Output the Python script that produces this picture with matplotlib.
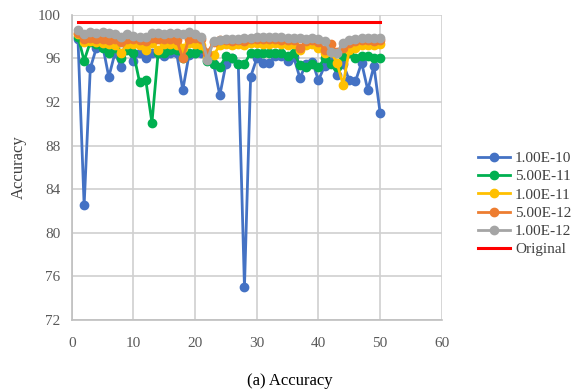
import matplotlib
matplotlib.use("Agg")
import matplotlib.pyplot as plt

plt.rcParams['font.family'] = ['Liberation Serif', 'DejaVu Serif']

x = list(range(1, 51))
labels = ["1.00E-10", "5.00E-11", "1.00E-11", "5.00E-12", "1.00E-12", "Original"]
colors = ["#4472C4", "#00B050", "#FFC000", "#ED7D31", "#A5A5A5", "#FF0000"]

s_1e10 = [97.8, 82.5, 95.1, 97.0, 97.2, 94.3, 96.5, 95.2, 97.0, 95.8,
          96.5, 96.0, 96.5, 96.5, 96.2, 96.5, 96.5, 93.1, 96.3, 96.5,
          96.5, 96.5, 95.5, 92.6, 95.5, 96.0, 95.5, 75.0, 94.3, 96.0,
          95.6, 95.6, 96.2, 96.2, 95.8, 96.1, 94.2, 95.5, 95.7, 94.0,
          95.3, 96.0, 94.5, 95.5, 94.0, 93.9, 95.6, 93.1, 95.3, 91.0]
s_5e11 = [98.0, 95.8, 97.5, 97.3, 97.0, 96.5, 97.0, 96.0, 96.8, 96.5,
          93.8, 94.0, 90.1, 96.5, 96.5, 96.8, 96.8, 96.0, 96.5, 96.5,
          97.0, 95.8, 95.5, 95.2, 96.2, 96.0, 95.5, 95.5, 96.5, 96.5,
          96.5, 96.5, 96.5, 96.5, 96.2, 96.5, 95.4, 95.2, 95.5, 95.2,
          96.0, 95.5, 95.2, 96.2, 96.5, 96.0, 96.2, 96.2, 96.0, 96.0]
s_1e11 = [98.2, 97.5, 97.6, 97.5, 97.4, 97.3, 97.2, 96.5, 97.3, 97.3,
          97.2, 96.8, 97.4, 96.8, 97.3, 97.3, 97.2, 97.0, 97.4, 97.3,
          97.2, 96.0, 96.3, 97.2, 97.3, 97.2, 97.3, 97.2, 97.4, 97.4,
          97.3, 97.3, 97.4, 97.3, 97.2, 97.3, 96.8, 97.2, 97.3, 97.0,
          96.5, 96.6, 95.6, 93.6, 96.8, 97.0, 97.2, 97.2, 97.2, 97.3]
s_5e12 = [98.3, 97.8, 97.9, 97.8, 97.8, 97.7, 97.8, 97.5, 97.8, 97.8,
          97.7, 97.6, 97.9, 97.8, 97.8, 97.8, 97.7, 96.0, 97.8, 97.9,
          97.8, 96.5, 97.5, 97.7, 97.7, 97.6, 97.7, 97.6, 97.8, 97.8,
          97.8, 97.8, 97.8, 97.7, 97.7, 97.7, 97.0, 97.6, 97.7, 97.5,
          96.8, 97.3, 96.6, 97.0, 97.4, 97.6, 97.7, 97.7, 97.6, 97.7]
s_1e12 = [98.6, 98.2, 98.4, 98.3, 98.4, 98.3, 98.2, 98.0, 98.2, 98.1,
          98.0, 98.0, 98.3, 98.3, 98.2, 98.3, 98.3, 98.2, 98.4, 98.2,
          98.0, 95.9, 97.6, 97.7, 97.8, 97.8, 97.8, 97.9, 97.9, 98.0,
          98.0, 98.0, 98.0, 98.0, 97.9, 97.9, 97.9, 97.8, 97.9, 97.8,
          97.6, 96.6, 96.5, 97.4, 97.7, 97.8, 97.9, 97.9, 97.9, 97.9]
original = [99.3] * 50

series = [s_1e10, s_5e11, s_1e11, s_5e12, s_1e12]

fig = plt.figure(figsize=(5.79, 3.91), dpi=100)
ax = fig.add_axes([0.124, 0.182, 0.639, 0.780])

for s, lab, c in zip(series, labels[:5], colors[:5]):
    ax.plot(x, s, color=c, lw=2, marker='o', markersize=6, label=lab)
ax.plot(x, original, color=colors[5], lw=2.2, label=labels[5])

ax.set_xlim(0, 60)
ax.set_ylim(72, 100)
ax.set_xticks(range(0, 61, 10))
ax.set_yticks(range(72, 101, 4))
ax.grid(True, color='#d0d0d0', lw=1.2)
ax.set_axisbelow(True)
for sp in ['top', 'right']:
    ax.spines[sp].set_visible(False)
for sp in ['left', 'bottom']:
    ax.spines[sp].set_color('#bfbfbf')
    ax.spines[sp].set_linewidth(1.2)
ax.tick_params(length=0, labelsize=11, colors='#595959')
ax.tick_params(axis='x', pad=12)
ax.tick_params(axis='y', pad=8)
ax.set_ylabel("Accuracy", fontsize=12, color='#404040', labelpad=8)

leg = ax.legend(loc='center left', bbox_to_anchor=(1.06, 0.38), frameon=False,
                fontsize=11, handlelength=2.1, handletextpad=0.35, labelspacing=0.3)
for t in leg.get_texts():
    t.set_color('#404040')

fig.text(0.5, 0.005, "(a) Accuracy", ha='center', va='bottom', fontsize=12)

fig.savefig("out.png", dpi=100)
